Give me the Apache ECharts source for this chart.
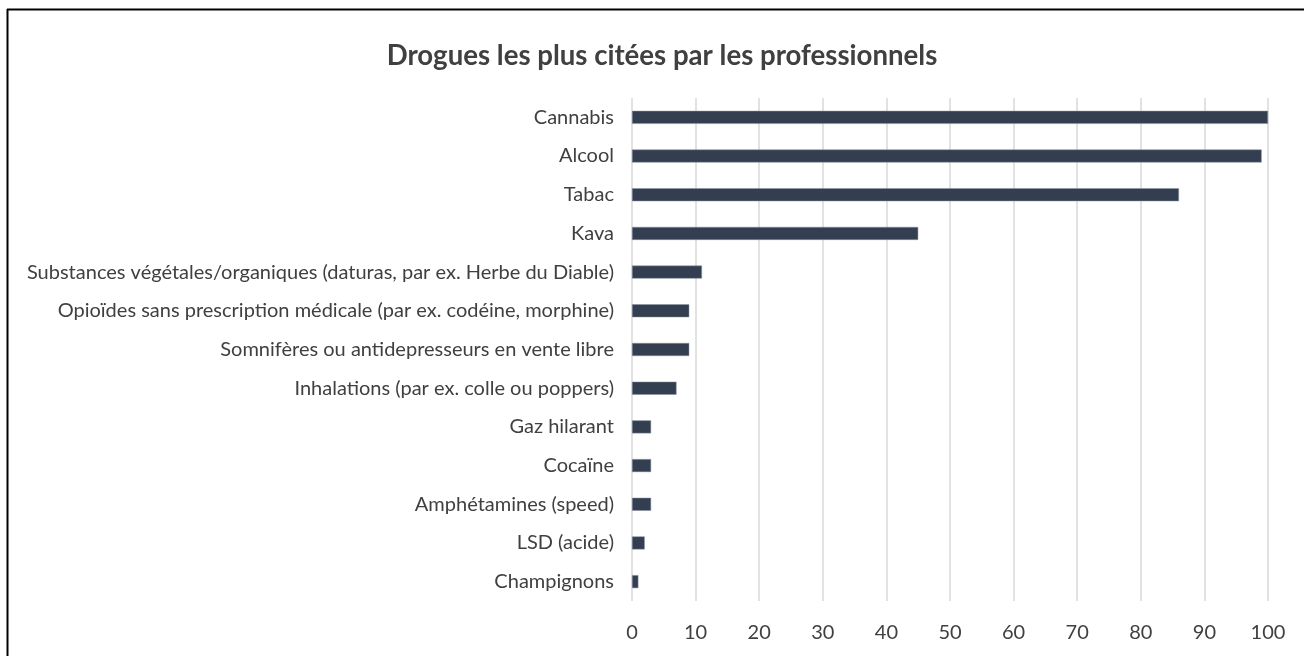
<!DOCTYPE html>
<html>
<head>
<meta charset="utf-8">
<script src="https://cdn.jsdelivr.net/npm/echarts@6/dist/echarts.min.js"></script>
<style>
html,body{margin:0;padding:0;background:#fff;}
#chart{width:1304px;height:656px;}
</style>
</head>
<body>
<div id="chart"></div>
<script>
const titleText = "Drogues les plus citées par les professionnels";
const categories = [
  "Cannabis",
  "Alcool",
  "Tabac",
  "Kava",
  "Substances végétales/organiques (daturas, par ex. Herbe du Diable)",
  "Opioïdes sans prescription médicale (par ex. codéine, morphine)",
  "Somnifères ou antidepresseurs en vente libre",
  "Inhalations (par ex. colle ou poppers)",
  "Gaz hilarant",
  "Cocaïne",
  "Amphétamines (speed)",
  "LSD (acide)",
  "Champignons"
];
const values = [100, 99, 86, 45, 11, 9, 9, 7, 3, 3, 3, 2, 1];
const axisMin = 0, axisMax = 100, axisStep = 10;

const chart = echarts.init(document.getElementById('chart'));
chart.setOption({
  backgroundColor: '#ffffff',
  animation: false,
  title: {
    text: titleText,
    left: 657,
    textAlign: 'center',
    top: 37,
    textStyle: {fontFamily: 'Lato', fontWeight: 'bold', fontSize: 27.6, color: '#404040'}
  },
  graphic: [
    {type: 'line', shape: {x1: 7, y1: 9.5, x2: 1304, y2: 9.5}, style: {stroke: '#000', lineWidth: 2}},
    {type: 'line', shape: {x1: 7.5, y1: 9, x2: 7.5, y2: 656}, style: {stroke: '#000', lineWidth: 2}}
  ],
  grid: {left: 632, right: 36, top: 98, bottom: 55, containLabel: false},
  xAxis: {
    type: 'value', min: axisMin, max: axisMax, interval: axisStep,
    axisLine: {show: false}, axisTick: {show: false},
    splitLine: {show: true, lineStyle: {color: '#d9d9d9', width: 1.5}},
    axisLabel: {fontFamily: 'Lato', fontSize: 20, color: '#404040', margin: 22}
  },
  yAxis: {
    type: 'category', data: categories, inverse: true,
    axisLine: {show: false}, axisTick: {show: false},
    axisLabel: {fontFamily: 'Lato', fontSize: 20, color: '#404040', margin: 18}
  },
  series: [{
    type: 'bar', data: values, barWidth: 13,
    itemStyle: {color: '#333F50', borderColor: '#8a93a3', borderWidth: 0.5}
  }]
});
</script>
</body>
</html>
